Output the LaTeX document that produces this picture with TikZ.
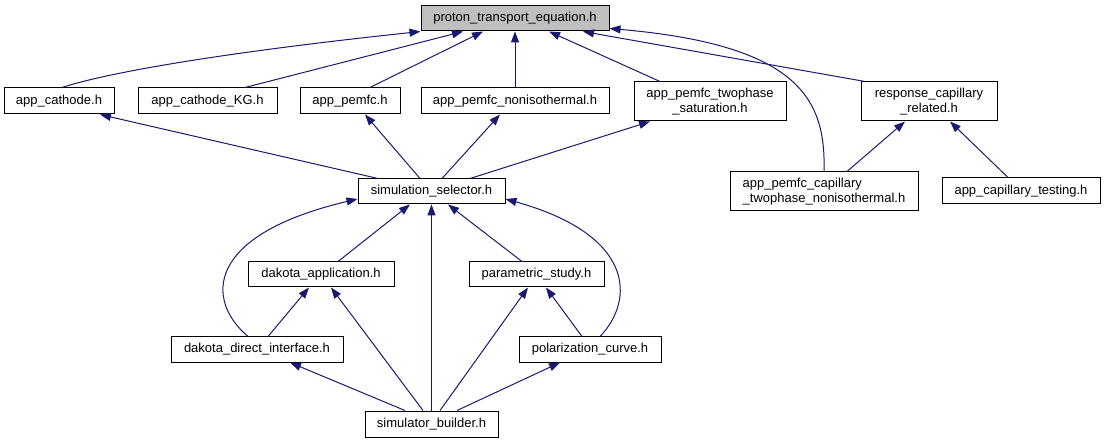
\documentclass[tikz,border=0pt]{standalone}
\usepackage{fontspec}
\setmainfont{Liberation Sans}
\usetikzlibrary{arrows.meta}
\definecolor{edgeblue}{RGB}{25,25,112}
\definecolor{boxgray}{RGB}{191,191,191}
\tikzset{
  box/.style={draw=black, line width=1pt, fill=white, inner sep=0pt, minimum height=25pt,
    font=\fontsize{13}{15.5}\selectfont, text=black},
  edge/.style={draw=edgeblue, line width=1pt, -{Triangle[length=11pt,width=8pt]}, fill=none},
}
\begin{document}
\begin{tikzpicture}[x=1pt,y=-1pt]
\useasboundingbox[fill=white] (0,0) rectangle (1105,443);
% nodes
\node[box, fill=boxgray, minimum width=188pt] (pte) at (515,18.5) {proton\_transport\_equation.h};
\node[box, minimum width=110pt, minimum height=26pt] (cath) at (59,101) {app\_cathode.h};
\node[box, minimum width=139pt, minimum height=26pt] (kg) at (207.5,101) {app\_cathode\_KG.h};
\node[box, minimum width=100pt, minimum height=26pt] (pemfc) at (350,101) {app\_pemfc.h};
\node[box, minimum width=188pt, minimum height=26pt] (noniso) at (515,101) {app\_pemfc\_nonisothermal.h};
\node[box, minimum width=152pt, minimum height=39pt, align=center] (twop) at (710,101.5) {app\_pemfc\_twophase\\\_saturation.h};
\node[box, minimum width=136pt, minimum height=39pt, align=center] (resp) at (929,101.5) {response\_capillary\\\_related.h};
\node[box, minimum width=147pt] (sel) at (431.5,191.5) {simulation\_selector.h};
\node[box, minimum width=188pt, minimum height=39pt, align=left] (cap) at (824,191.5) {app\_pemfc\_capillary\\\_twophase\_nonisothermal.h};
\node[box, minimum width=158pt, minimum height=26pt] (test) at (1021,191) {app\_capillary\_testing.h};
\node[box, minimum width=146pt] (da) at (321,274.5) {dakota\_application.h};
\node[box, minimum width=135pt] (ps) at (536.5,274.5) {parametric\_study.h};
\node[box, minimum width=172pt] (dd) at (257,349.5) {dakota\_direct\_interface.h};
\node[box, minimum width=142pt] (pc) at (590,349.5) {polarization\_curve.h};
\node[box, minimum width=133pt, minimum height=26pt] (sb) at (431.5,424) {simulator\_builder.h};
% edges to proton_transport_equation.h
\draw[edge] ([xshift=3pt]cath.north) .. controls (100,75) and (200,55) .. (pte.south west);
\draw[edge] ([xshift=37.5pt]kg.north) -- ([xshift=-52pt]pte.south);
\draw[edge] ([xshift=20pt]pemfc.north) -- ([xshift=-32pt]pte.south);
\draw[edge] (noniso.north) -- (pte.south);
\draw[edge] ([xshift=-50pt]twop.north) -- ([xshift=34pt]pte.south);
\draw[edge] ([xshift=-64pt]resp.north) -- ([xshift=68pt]pte.south);
\draw[edge] (cap.north) .. controls (826,100) and (800,45) .. ([yshift=3pt]pte.south east);
% second level
\draw[edge] ([xshift=-53.5pt]sel.north) -- ([xshift=41pt]cath.south);
\draw[edge] ([xshift=-11.5pt]sel.north) -- ([xshift=15pt]pemfc.south);
\draw[edge] ([xshift=10.5pt]sel.north) -- ([xshift=-15pt]noniso.south);
\draw[edge] ([xshift=38.5pt]sel.north) -- ([xshift=-60pt]twop.south);
\draw[edge] ([xshift=23pt]cap.north) -- ([xshift=-24pt]resp.south);
\draw[edge] ([xshift=-13pt]test.north) -- ([xshift=21pt]resp.south);
% third level
\draw[edge] ([xshift=-9pt]dd.north) .. controls (205,300) and (205,235) .. ([yshift=-7.5pt]sel.west);
\draw[edge] ([xshift=17pt]da.north) -- ([xshift=-21.5pt]sel.south);
\draw[edge] (sb.north) -- (sel.south);
\draw[edge] ([xshift=-14.5pt]ps.north) -- ([xshift=16.5pt]sel.south);
\draw[edge] ([xshift=10pt]pc.north) .. controls (635,300) and (635,235) .. ([yshift=-7.5pt]sel.east);
% fourth level
\draw[edge] ([xshift=11pt]dd.north) -- ([xshift=-12pt]da.south);
\draw[edge] ([xshift=-8.5pt]sb.north) -- ([xshift=10pt]da.south);
\draw[edge] ([xshift=8.5pt]sb.north) -- ([xshift=-8.5pt]ps.south);
\draw[edge] ([xshift=-8pt]pc.north) -- ([xshift=9.5pt]ps.south);
\draw[edge] ([xshift=-26.5pt]sb.north) -- ([xshift=33pt]dd.south);
\draw[edge] ([xshift=25.5pt]sb.north) -- ([xshift=-30pt]pc.south);
\end{tikzpicture}
\end{document}
